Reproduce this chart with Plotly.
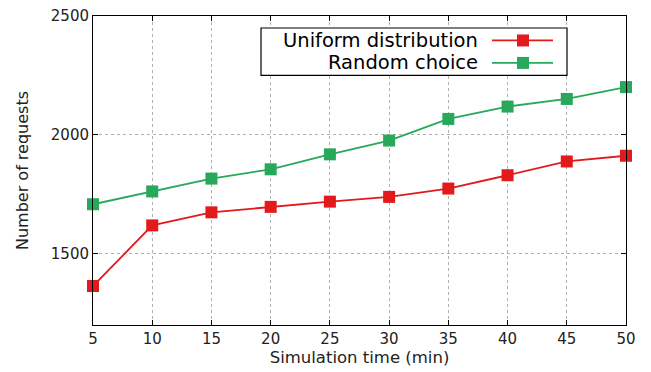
import plotly.graph_objects as go

x_minutes = [5, 10, 15, 20, 25, 30, 35, 40, 45, 50]
uniform_distribution = [1364, 1619, 1674, 1697, 1719, 1739, 1774, 1830, 1888, 1912]
random_choice = [1708, 1762, 1816, 1855, 1918, 1976, 2067, 2119, 2151, 2201]
series_names = ["Uniform distribution", "Random choice"]
series_colors = ["#e31a1c", "#27a85a"]
x_ticks = [5, 10, 15, 20, 25, 30, 35, 40, 45, 50]
y_ticks = [1500, 2000, 2500]

W, H = 651, 372
L, R, T, B = 93, 25, 15.5, 47
pw, ph = W - L - R, H - T - B

def px2paper(px, py):
    return (px - L) / pw, (H - B - py) / ph

fig = go.Figure()
for name, vals, col in zip(series_names, [uniform_distribution, random_choice], series_colors):
    fig.add_trace(go.Scatter(
        x=x_minutes, y=vals, name=name, mode="lines+markers",
        line=dict(color=col, width=1.8),
        marker=dict(symbol="square", size=12, color=col),
        showlegend=False, cliponaxis=False,
    ))

shapes = []
annotations = []
# legend box
x0, y0 = px2paper(261, 75)
x1, y1 = px2paper(567, 27.5)
shapes.append(dict(type="rect", xref="paper", yref="paper", x0=x0, y0=y0, x1=x1, y1=y1,
                   line=dict(color="black", width=1.2), fillcolor="white", layer="above"))
for i, (name, col) in enumerate(zip(series_names, series_colors)):
    py = 40.0 + i * 22.5
    ax, ay = px2paper(479, py)
    annotations.append(dict(text=name, xref="paper", yref="paper", x=ax, y=ay,
                            xanchor="right", yanchor="middle", showarrow=False, borderpad=0,
                            font=dict(size=19.5, color="black", family="DejaVu Sans")))
    lx0, ly = px2paper(492, py)
    lx1, _ = px2paper(553, py)
    shapes.append(dict(type="line", xref="paper", yref="paper", x0=lx0, x1=lx1, y0=ly, y1=ly,
                       line=dict(color=col, width=1.8), layer="above"))
    mx0, my0 = px2paper(517, py + 6)
    mx1, my1 = px2paper(529, py - 6)
    shapes.append(dict(type="rect", xref="paper", yref="paper", x0=mx0, x1=mx1, y0=my0, y1=my1,
                       line=dict(color=col, width=0), fillcolor=col, layer="above"))

axis_font = dict(family="DejaVu Sans", size=15, color="#222222")
fig.update_layout(
    width=W, height=H,
    margin=dict(l=L, r=R, t=T, b=B, autoexpand=False),
    paper_bgcolor="white", plot_bgcolor="white",
    font=dict(family="DejaVu Sans", color="#222222"),
    shapes=shapes, annotations=annotations,
    xaxis=dict(range=[5, 50], tickvals=x_ticks, ticktext=[str(v) for v in x_ticks],
               showline=True, linecolor="black", linewidth=1, mirror="allticks",
               ticks="inside", ticklen=5, tickcolor="black", automargin=False,
               showgrid=True, gridcolor="#b0b0b0", griddash="dot", gridwidth=1,
               zeroline=False, tickfont=axis_font,
               title=dict(text="Simulation time (min)", font=dict(family="DejaVu Sans", size=16.5, color="#222222"), standoff=3)),
    yaxis=dict(range=[1200, 2500], tickvals=y_ticks,
               showline=True, linecolor="black", linewidth=1, mirror="allticks",
               ticks="inside", ticklen=5, tickcolor="black", automargin=False,
               showgrid=True, gridcolor="#b0b0b0", griddash="dot", gridwidth=1,
               zeroline=False, tickfont=axis_font,
               title=dict(text="Number of requests", font=dict(family="DejaVu Sans", size=16, color="#222222"), standoff=18)),
)
fig.write_html("out.html", config={"displayModeBar": False},
               post_script="document.body.style.margin='0';")
